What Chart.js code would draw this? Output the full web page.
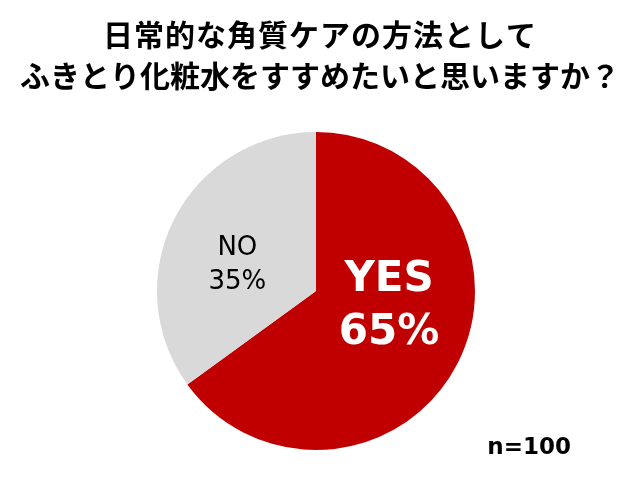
<!DOCTYPE html>
<html>
<head>
<meta charset="utf-8">
<script src="https://cdn.jsdelivr.net/npm/chart.js@4"></script>
<style>
  html, body { margin: 0; padding: 0; background: #fff; }
  #wrap { width: 640px; height: 492px; }
</style>
</head>
<body>
<div id="wrap"><canvas id="pieChart"></canvas></div>
<script>
const titleLines = ['日常的な角質ケアの方法として', 'ふきとり化粧水をすすめたいと思いますか？'];
const categories = ['YES', 'NO'];
const percents = [65, 35];
const sliceColors = ['#C00000', '#D9D9D9'];
const sampleNote = 'n=100';

// label styles per slice
const labelStyle = [
    { font: 'bold 42px "DejaVu Sans", Verdana, sans-serif', color: '#ffffff', frac: 0.47, shift: -15, gap: 53 },
    { font: '26px "DejaVu Sans", Verdana, sans-serif', color: '#000000', frac: 0.52, shift: -9, gap: 34 }
];

// title drawn by hand so it can use the full width above the pie
const titleDraw = {
    id: 'titleDraw',
    afterDraw(chart) {
        const ctx = chart.ctx;
        ctx.save();
        ctx.font = 'bold 30px "Noto Sans CJK JP", sans-serif';
        ctx.fillStyle = '#000';
        ctx.textAlign = 'center';
        ctx.textBaseline = 'middle';
        titleLines.forEach(function(line, i) {
            ctx.letterSpacing = i === 0 ? '1px' : '0px';
            ctx.fillText(line, chart.width / 2, 35 + i * 41);
        });
        ctx.restore();
    }
};

const sliceLabels = {
    id: 'sliceLabels',
    afterDatasetsDraw(chart) {
        const ctx = chart.ctx;
        const meta = chart.getDatasetMeta(0);
        meta.data.forEach(function(arc, i) {
            const p = arc.getProps(['x', 'y', 'startAngle', 'endAngle', 'outerRadius'], true);
            const st = labelStyle[i];
            const mid = (p.startAngle + p.endAngle) / 2 + st.shift * Math.PI / 180;
            const r = p.outerRadius * st.frac;
            const cx = p.x + Math.cos(mid) * r;
            const cy = p.y + Math.sin(mid) * r;
            ctx.save();
            ctx.font = st.font;
            ctx.fillStyle = st.color;
            ctx.textAlign = 'center';
            ctx.textBaseline = 'middle';
            ctx.fillText(categories[i], cx, cy - st.gap / 2);
            ctx.fillText(percents[i] + '%', cx, cy + st.gap / 2);
            ctx.restore();
        });
        // sample size note
        ctx.save();
        ctx.font = 'bold 23px "DejaVu Sans", Verdana, sans-serif';
        ctx.fillStyle = '#000';
        ctx.textAlign = 'right';
        ctx.textBaseline = 'middle';
        ctx.fillText(sampleNote, chart.width - 69, chart.chartArea.bottom - 2);
        ctx.restore();
    }
};

document.addEventListener('DOMContentLoaded', function() {
    const ctx = document.getElementById('pieChart').getContext('2d');
    new Chart(ctx, {
        type: 'pie',
        data: {
            labels: categories,
            datasets: [{
                data: percents,
                backgroundColor: sliceColors,
                borderWidth: 0
            }]
        },
        options: {
            responsive: true,
            maintainAspectRatio: false,
            animation: false,
            layout: {
                padding: { left: 157, right: 165, top: 132, bottom: 42 }
            },
            plugins: {
                legend: { display: false },
                tooltip: { enabled: false },
                title: { display: false }
            }
        },
        plugins: [sliceLabels, titleDraw]
    });
});
</script>
</body>
</html>
